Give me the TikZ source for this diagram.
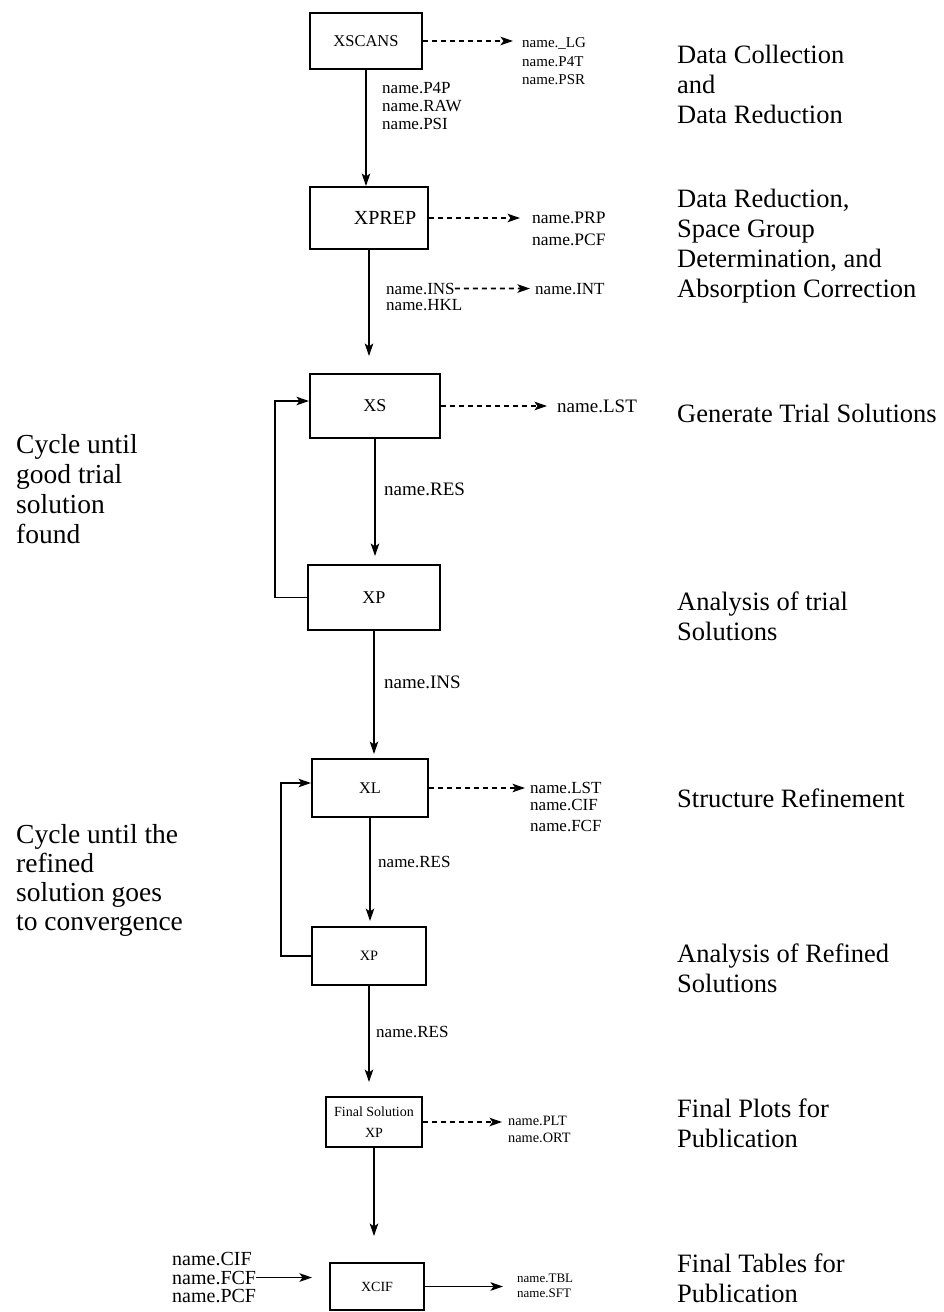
\documentclass[tikz,border=0pt]{standalone}
\usepackage{fontspec}
\setmainfont{Liberation Serif}
\usetikzlibrary{arrows.meta}
\newcommand\fsz[1]{\fontsize{#1}{#1}\selectfont}
\begin{document}
\begin{tikzpicture}[x=1pt,y=-1pt,
  box/.style={draw, line width=2pt, inner sep=0pt},
  arr/.style={line width=1.8pt, -{Stealth[length=12.5pt,width=8.5pt,inset=3pt]}},
  darr/.style={arr, dash pattern=on 5pt off 4pt},
  lbl/.style={anchor=base west, inner sep=0pt},
  big/.style={lbl, font=\fsz{26.5}},
  bigl/.style={lbl, font=\fsz{27.5}}]
\useasboundingbox (0,0) rectangle (943,1312);

% boxes
\node[box, minimum width=112pt, minimum height=56pt, font=\fsz{16.5}] (xscans) at (366,41) {XSCANS};
\node[box, minimum width=118pt, minimum height=62pt, font=\fsz{20}] (xprep) at (369,218) {\hspace*{32pt}XPREP};
\node[box, minimum width=130pt, minimum height=64pt, font=\fsz{18}] (xs) at (375,406) {XS};
\node[box, minimum width=132pt, minimum height=65pt, font=\fsz{18}] (xpa) at (374,597.5) {XP};
\node[box, minimum width=116pt, minimum height=58pt, font=\fsz{16.3}] (xl) at (370,788) {XL};
\node[box, minimum width=114pt, minimum height=58pt, font=\fsz{14.3}] (xpb) at (369,956) {XP};
\node[box, minimum width=96pt, minimum height=50pt, font=\fontsize{14}{21}\selectfont, align=center] (fin) at (374,1122) {Final Solution\\XP};
\node[box, minimum width=94pt, minimum height=47pt, font=\fsz{14}] (xcif) at (377,1286.5) {XCIF};

% file labels
\node[lbl, font=\fsz{15}] (o1a) at (522,47) {name.\_LG};
\node[lbl, font=\fsz{15}] (o1b) at (522,66) {name.P4T};
\node[lbl, font=\fsz{15}] (o1c) at (522,84) {name.PSR};
\node[lbl, font=\fsz{17}] (v1a) at (382,93) {name.P4P};
\node[lbl, font=\fsz{17}] (v1b) at (382,111) {name.RAW};
\node[lbl, font=\fsz{17}] (v1c) at (382,129) {name.PSI};
\node[lbl, font=\fsz{17.5}] (o2a) at (532,223) {name.PRP};
\node[lbl, font=\fsz{17.5}] (o2b) at (532,245) {name.PCF};
\node[lbl, font=\fsz{17}] (v2a) at (386,294) {name.INS};
\node[lbl, font=\fsz{17}] (v2b) at (386,310) {name.HKL};
\node[lbl, font=\fsz{17}] (int) at (535,294) {name.INT};
\node[lbl, font=\fsz{19}] (o3a) at (557,412) {name.LST};
\node[lbl, font=\fsz{19}] (v3a) at (384,495) {name.RES};
\node[lbl, font=\fsz{19}] (v4a) at (384,688) {name.INS};
\node[lbl, font=\fsz{17}] (o5a) at (530,793) {name.LST};
\node[lbl, font=\fsz{17}] (o5b) at (530,810) {name.CIF};
\node[lbl, font=\fsz{17}] (o5c) at (530,831) {name.FCF};
\node[lbl, font=\fsz{17}] (v5a) at (378,867) {name.RES};
\node[lbl, font=\fsz{17}] (v6a) at (376,1037) {name.RES};
\node[lbl, font=\fsz{14.3}] (o7a) at (508,1125) {name.PLT};
\node[lbl, font=\fsz{14.3}] (o7b) at (508,1142) {name.ORT};
\node[lbl, font=\fsz{20}] (i8a) at (172,1265) {name.CIF};
\node[lbl, font=\fsz{20}] (i8b) at (172,1284) {name.FCF};
\node[lbl, font=\fsz{20}] (i8c) at (172,1302) {name.PCF};
\node[lbl, font=\fsz{13}] (o8a) at (517,1282) {name.TBL};
\node[lbl, font=\fsz{13}] (o8b) at (517,1297) {name.SFT};

% right-hand stage descriptions
\node[big] (r1a) at (677,63) {Data Collection};
\node[big] (r1b) at (677,93) {and};
\node[big] (r1c) at (677,123) {Data Reduction};
\node[big] (r2a) at (677,207) {Data Reduction,};
\node[big] (r2b) at (677,237) {Space Group};
\node[big] (r2c) at (677,267) {Determination, and};
\node[big] (r2d) at (677,297) {Absorption Correction};
\node[big] (r3a) at (677,422) {Generate Trial Solutions};
\node[big] (r4a) at (677,610) {Analysis of trial};
\node[big] (r4b) at (677,640) {Solutions};
\node[big] (r5a) at (677,807) {Structure Refinement};
\node[big] (r6a) at (677,962) {Analysis of Refined};
\node[big] (r6b) at (677,992) {Solutions};
\node[big] (r7a) at (677,1117) {Final Plots for};
\node[big] (r7b) at (677,1147) {Publication};
\node[big] (r8a) at (677,1272) {Final Tables for};
\node[big] (r8b) at (677,1302) {Publication};

% left-hand cycle notes
\node[bigl] (l1a) at (16,453) {Cycle until};
\node[bigl] (l1b) at (16,483) {good trial};
\node[bigl] (l1c) at (16,513) {solution};
\node[bigl] (l1d) at (16,543) {found};
\node[bigl] (l2a) at (16,843) {Cycle until the};
\node[bigl] (l2b) at (16,872) {refined};
\node[bigl] (l2c) at (16,901) {solution goes};
\node[bigl] (l2d) at (16,930) {to convergence};

% main flow
\draw[arr] (xscans.south) -- (xscans.south |- xprep.north);
\draw[arr, shorten >=17pt] (xprep.south) -- (xprep.south |- xs.north);
\draw[arr, shorten >=8pt] (xs.south) -- (xs.south |- xpa.north);
\draw[arr, shorten >=4pt] (xpa.south) -- (xpa.south |- xl.north);
\draw[arr, shorten >=5pt] (xl.south) -- (xl.south |- xpb.north);
\draw[arr, shorten >=14pt] (xpb.south) -- (xpb.south |- fin.north);
\draw[arr, shorten >=26pt] (fin.south) -- (fin.south |- xcif.north);

% feedback loops
\draw[arr] (xpa.west) -- ++(-32,0) |- ([yshift=5pt]xs.west);
\draw[arr] (xpb.west) -- ++(-30,0) |- ([yshift=5pt]xl.west);

% output files
\draw[darr, shorten >=9pt] (xscans.east) -- (xscans.east -| o1a.west);
\draw[darr, shorten >=12pt] (xprep.east) -- (xprep.east -| o2a.west);
\draw[darr, shorten >=5pt] (v2a.east) -- (int.west);
\draw[darr, shorten >=10pt] (xs.east) -- (xs.east -| o3a.west);
\draw[darr, shorten >=5pt] (xl.east) -- (xl.east -| o5a.west);
\draw[darr, shorten >=6pt] (fin.east) -- (fin.east -| o7a.west);
\draw[arr, shorten >=17pt] (i8b.east) -- (i8b.east -| xcif.west);
\draw[arr, shorten >=14pt] (xcif.east) -- (xcif.east -| o8a.west);
\end{tikzpicture}
\end{document}
